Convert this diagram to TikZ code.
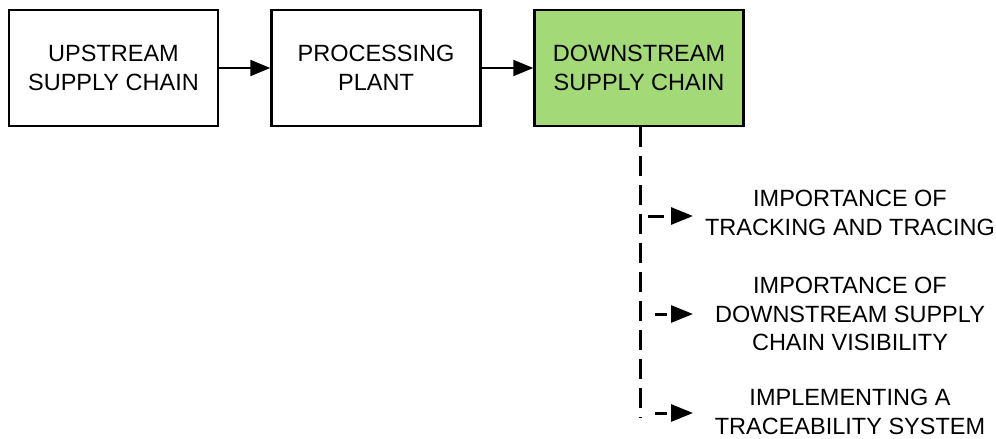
\documentclass[tikz,border=0pt]{standalone}
\usepackage{fontspec}
\setmainfont{Liberation Sans}
\usetikzlibrary{arrows.meta}
\definecolor{boxgreen}{HTML}{A3D977}
\begin{document}
\begin{tikzpicture}[x=1pt,y=-1pt,
  box/.style={draw=black,line width=2.4pt,minimum width=209pt,minimum height=116pt,inner sep=0pt,align=center,font=\fontsize{23.5}{28.5}\selectfont},
  lbl/.style={align=center,font=\fontsize{23.5}{28.5}\selectfont,inner sep=0pt},
  tip/.style={-{Triangle[length=20pt,width=16pt]}},
  solidarrow/.style={tip,line width=2pt},
  hdash/.style={-{Triangle[length=22pt,width=17pt]},line width=3pt,dash pattern=on 12pt off 20pt}]
\useasboundingbox (0,0) rectangle (996,439);
\node[box] (up) at (113.5,68) {UPSTREAM\\SUPPLY CHAIN};
\node[box] (pp) at (376,68) {PROCESSING\\PLANT};
\node[box,fill=boxgreen] (ds) at (639,68) {DOWNSTREAM\\SUPPLY CHAIN};
\draw[solidarrow] (up.east) -- (pp.west);
\draw[solidarrow] (pp.east) -- (ds.west);
\coordinate (vtop) at (640,127);
\coordinate (vbot) at (640,418);
\draw[line width=3pt,dash pattern=on 20pt off 9pt] (vtop) -- (vbot);
\node[lbl] (l1) at (850,213) {IMPORTANCE OF\\TRACKING AND TRACING};
\node[lbl] (l2) at (850,314) {IMPORTANCE OF\\DOWNSTREAM SUPPLY\\CHAIN VISIBILITY};
\node[lbl] (l3) at (850,412) {IMPLEMENTING A\\TRACEABILITY SYSTEM};
\coordinate (a1) at (648,216);
\coordinate (e1) at (693,216);
\coordinate (a2) at (655,314);
\coordinate (e2) at (693,314);
\coordinate (a3) at (655,413);
\coordinate (e3) at (693,413);
\draw[hdash,dash pattern=on 16pt off 20pt] (a1) -- (e1);
\draw[hdash] (a2) -- (e2);
\draw[hdash] (a3) -- (e3);
\end{tikzpicture}
\end{document}
